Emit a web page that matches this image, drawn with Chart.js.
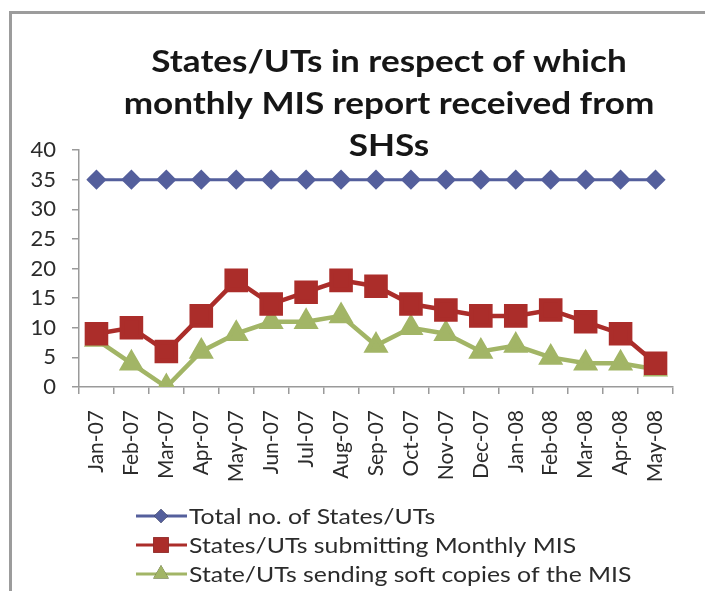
<!DOCTYPE html>
<html>
<head>
<meta charset="utf-8">
<script src="https://cdn.jsdelivr.net/npm/chart.js@4"></script>
<style>
  html, body { margin: 0; padding: 0; background: #fff; }
  #wrap { position: relative; width: 705px; height: 591px; }
</style>
</head>
<body>
<div id="wrap"><canvas id="misChart" width="705" height="591"></canvas></div>
<script>
const months = ["Jan-07", "Feb-07", "Mar-07", "Apr-07", "May-07", "Jun-07", "Jul-07", "Aug-07", "Sep-07",
  "Oct-07", "Nov-07", "Dec-07", "Jan-08", "Feb-08", "Mar-08", "Apr-08", "May-08"];
const totalStates = [35, 35, 35, 35, 35, 35, 35, 35, 35, 35, 35, 35, 35, 35, 35, 35, 35];
const submittingMIS = [9, 10, 6, 12, 18, 14, 16, 18, 17, 14, 13, 12, 12, 13, 11, 9, 4];
const softCopies = [8, 4, 0, 6, 9, 11, 11, 12, 7, 10, 9, 6, 7, 5, 4, 4, 3];
const yTicks = [0, 5, 10, 15, 20, 25, 30, 35, 40];
const titleLines = ["States/UTs in respect of which", "monthly MIS report received from", "SHSs"];

const blue = "#545f9c";
const red = "#ab2d2a";
const green = "#a2b566";
const textColor = "#2b2b2b";
const axisColor = "#9a9a9a";

// the scan is a bit wider than Lato, so stretch the hand-drawn text sideways
function wideText(ctx, text, x, y, sx) {
  ctx.save();
  ctx.translate(x, y);
  ctx.scale(sx, 1);
  ctx.fillText(text, 0, 0);
  ctx.restore();
}

// frame + title + legend drawn on the canvas
const decorPlugin = {
  id: "decor",
  beforeDraw(chart) {
    const ctx = chart.ctx;
    ctx.save();
    ctx.strokeStyle = "#9c9c9c";
    ctx.lineWidth = 3;
    ctx.beginPath();
    ctx.moveTo(10.5, 600);
    ctx.lineTo(10.5, 12.5);
    ctx.lineTo(710, 12.5);
    ctx.stroke();
    ctx.restore();
  },
  afterDraw(chart) {
    const ctx = chart.ctx;
    ctx.save();
    ctx.fillStyle = "#161616";
    ctx.font = "bold 30px Lato";
    ctx.textAlign = "center";
    ctx.textBaseline = "alphabetic";
    titleLines.forEach((line, i) => {
      wideText(ctx, line, 389, 72 + i * 42, 1.17);
    });

    const items = chart.data.datasets;
    ctx.font = "21px Lato";
    ctx.textAlign = "left";
    ctx.textBaseline = "middle";
    items.forEach((ds, i) => {
      const y = 516 + i * 29;
      ctx.strokeStyle = ds.borderColor;
      ctx.lineWidth = 3;
      ctx.beginPath();
      ctx.moveTo(136, y);
      ctx.lineTo(187, y);
      ctx.stroke();
      Chart.helpers.drawPoint(ctx, {
        pointStyle: ds.pointStyle,
        radius: ds.legendRadius,
        rotation: 0
      }, 161, y);
      ctx.fillStyle = ds.backgroundColor;
      ctx.fill();
      ctx.fillStyle = textColor;
      wideText(ctx, ds.label, 189, y + 1, 1.18);
    });
    ctx.restore();
  }
};

new Chart(document.getElementById("misChart").getContext("2d"), {
  type: "line",
  data: {
    labels: months,
    datasets: [
      {
        label: "Total no. of States/UTs",
        data: totalStates,
        borderColor: blue,
        backgroundColor: blue,
        borderWidth: 3,
        pointStyle: "rectRot",
        pointRadius: 8,
        legendRadius: 7,
        tension: 0
      },
      {
        label: "States/UTs submitting Monthly MIS",
        data: submittingMIS,
        borderColor: red,
        backgroundColor: red,
        borderWidth: 4.5,
        pointStyle: "rect",
        pointRadius: 13.5,
        legendRadius: 11,
        tension: 0
      },
      {
        label: "State/UTs sending soft copies of the MIS",
        data: softCopies,
        borderColor: green,
        backgroundColor: green,
        borderWidth: 4.5,
        pointStyle: "triangle",
        pointRadius: 10,
        legendRadius: 9,
        tension: 0
      }
    ]
  },
  options: {
    responsive: false,
    animation: false,
    layout: { padding: { left: 0, right: 32, top: 150, bottom: 94 } },
    plugins: {
      legend: { display: false },
      title: { display: false },
      tooltip: { enabled: false }
    },
    scales: {
      x: {
        offset: true,
        grid: { display: true, drawOnChartArea: false, offset: true, tickLength: 7, color: axisColor, lineWidth: 1.5 },
        border: { color: axisColor, width: 1.5 },
        ticks: { color: textColor, font: { family: "Lato", size: 21 }, minRotation: 90, maxRotation: 90, padding: 16, autoSkip: false },
        afterFit: (axis) => { axis.height = 110; }
      },
      y: {
        min: 0,
        max: 40,
        afterBuildTicks: (axis) => { axis.ticks = yTicks.map((v) => ({ value: v })); },
        grid: { display: true, drawOnChartArea: false, tickLength: 7, color: axisColor, lineWidth: 1.5 },
        border: { color: axisColor, width: 1.5 },
        ticks: { color: textColor, font: { family: "Lato", size: 22 }, padding: 16, autoSkip: false },
        afterFit: (axis) => { axis.width = 79; }
      }
    }
  },
  plugins: [decorPlugin]
});
</script>
</body>
</html>
